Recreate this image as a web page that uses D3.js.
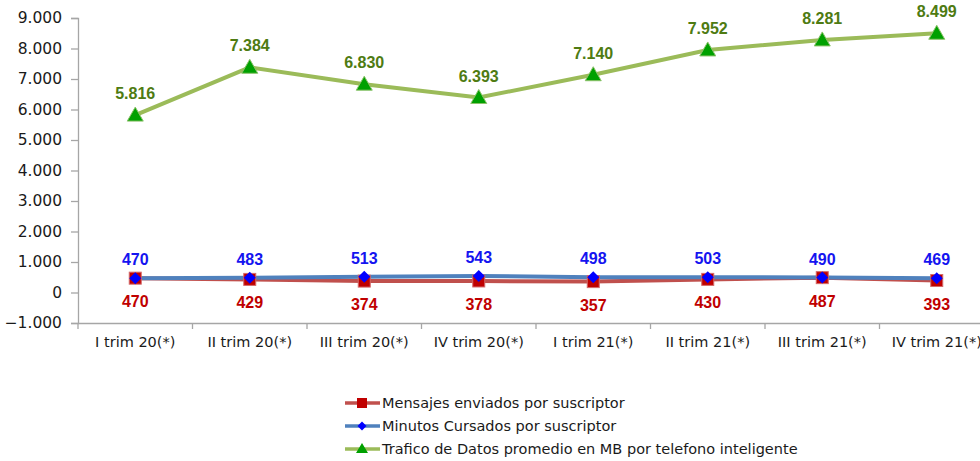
<!DOCTYPE html>
<html><head><meta charset="utf-8">
<script src="https://cdn.jsdelivr.net/npm/d3@7"></script>
<style>
body{margin:0;background:#fff;}
svg{display:block;}
</style></head>
<body><svg id="c" width="980" height="461"></svg>
<script>
const categories = ["I trim 20(*)","II trim 20(*)","III trim 20(*)","IV trim 20(*)","I trim 21(*)","II trim 21(*)","III trim 21(*)","IV trim 21(*)"];
const mensajes = [470,429,374,378,357,430,487,393];
const minutos = [470,483,513,543,498,503,490,469];
const trafico = [5816,7384,6830,6393,7140,7952,8281,8499];
const yTicks = [-1000,0,1000,2000,3000,4000,5000,6000,7000,8000,9000];
const seriesNames = ["Mensajes enviados por suscriptor","Minutos Cursados por suscriptor","Trafico de Datos promedio en MB por telefono inteligente"];

const svg = d3.select("#c");
const x = d3.scaleBand().domain(categories).range([78,994]);
const y = d3.scaleLinear().domain([-1000,9000]).range([323,18]);
const fmt = v => d3.format(",")(v).replace(/,/g,".");
const tickFont = "'DejaVu Sans', sans-serif";
const boldFont = "'Liberation Sans', Arial, sans-serif";

// y axis
const ya = svg.append("g").attr("transform","translate(78,0)")
  .call(d3.axisLeft(y).tickValues(yTicks).tickSize(7).tickPadding(9).tickFormat(fmt));
ya.select(".domain").attr("stroke","#a6a6a6").attr("stroke-width",1.3);
ya.selectAll(".tick line").attr("stroke","#a6a6a6").attr("stroke-width",1.3);
ya.selectAll("text").attr("font-family",tickFont).attr("font-size",15.5).attr("fill","#1a1a1a");

// x axis at -1000
const xa = svg.append("g").attr("transform","translate(0,323)")
  .call(d3.axisBottom(x).tickSize(0).tickPadding(14));
xa.select(".domain").attr("stroke","#a6a6a6").attr("stroke-width",1.3);
xa.selectAll("text").attr("font-family",tickFont).attr("font-size",14.5).attr("fill","#1a1a1a");
// band boundary ticks
svg.append("g").selectAll("line").data(categories.slice(1)).join("line")
  .attr("x1",d=>x(d)).attr("x2",d=>x(d)).attr("y1",323).attr("y2",329)
  .attr("stroke","#a6a6a6").attr("stroke-width",1.3);
svg.append("line").attr("x1",78).attr("x2",78).attr("y1",323).attr("y2",329).attr("stroke","#a6a6a6").attr("stroke-width",1.3);

const cx = d => x(d) + x.bandwidth()/2;
const line = d3.line().x((d,i)=>cx(categories[i])).y(d=>y(d));

// red series
svg.append("path").datum(mensajes).attr("d",line).attr("fill","none").attr("stroke","#C0504D").attr("stroke-width",4);
// blue series
svg.append("path").datum(minutos).attr("d",line).attr("fill","none").attr("stroke","#4F81BD").attr("stroke-width",4);
// green series
svg.append("path").datum(trafico).attr("d",line).attr("fill","none").attr("stroke","#9BBB59").attr("stroke-width",4);

// red squares
svg.append("g").selectAll("rect").data(mensajes).join("rect")
  .attr("x",(d,i)=>cx(categories[i])-6).attr("y",d=>y(d)-6).attr("width",12).attr("height",12)
  .attr("fill","#C00000").attr("stroke","#D36A6A").attr("stroke-width",1);
// blue diamonds
svg.append("g").selectAll("path").data(minutos).join("path")
  .attr("d","M0,-6L6,0L0,6L-6,0Z").attr("transform",(d,i)=>`translate(${cx(categories[i])},${y(d)})`)
  .attr("fill","#0000FF");
// green triangles
svg.append("g").selectAll("path").data(trafico).join("path")
  .attr("d",d=>"M0,-8L8,6L-8,6Z").attr("transform",(d,i)=>`translate(${cx(categories[i])},${y(d)})`)
  .attr("fill","#00A000").attr("stroke","#8CC26A").attr("stroke-width",1);

// labels
function labels(data, color, dy){
  svg.append("g").selectAll("text").data(data).join("text")
    .attr("x",(d,i)=>cx(categories[i])).attr("y",d=>y(d)+dy)
    .attr("text-anchor","middle").attr("font-family",boldFont).attr("font-weight","bold")
    .attr("font-size",16).attr("fill",color).text(fmt);
}
labels(trafico,"#4E7B12",-16);
labels(minutos,"#1414F0",-13);
labels(mensajes,"#C00000",29);

// legend
const leg = svg.append("g");
const legColors = ["#C0504D","#4F81BD","#9BBB59"];
const legY = [403,426,449];
seriesNames.forEach((n,i)=>{
  leg.append("line").attr("x1",345).attr("x2",380).attr("y1",legY[i]).attr("y2",legY[i])
    .attr("stroke",legColors[i]).attr("stroke-width",3.5);
  if(i===0) leg.append("rect").attr("x",357).attr("y",legY[i]-5).attr("width",10).attr("height",10).attr("fill","#C00000");
  if(i===1) leg.append("path").attr("d","M0,-4.5L4.5,0L0,4.5L-4.5,0Z").attr("transform",`translate(362,${legY[i]})`).attr("fill","#0000FF");
  if(i===2) leg.append("path").attr("d","M0,-6L6,4L-6,4Z").attr("transform",`translate(362,${legY[i]})`).attr("fill","#00A000");
  leg.append("text").attr("x",382).attr("y",legY[i]+5).attr("font-family",tickFont).attr("font-size",14.5)
    .attr("fill","#1a1a1a").text(n);
});
</script></body></html>
